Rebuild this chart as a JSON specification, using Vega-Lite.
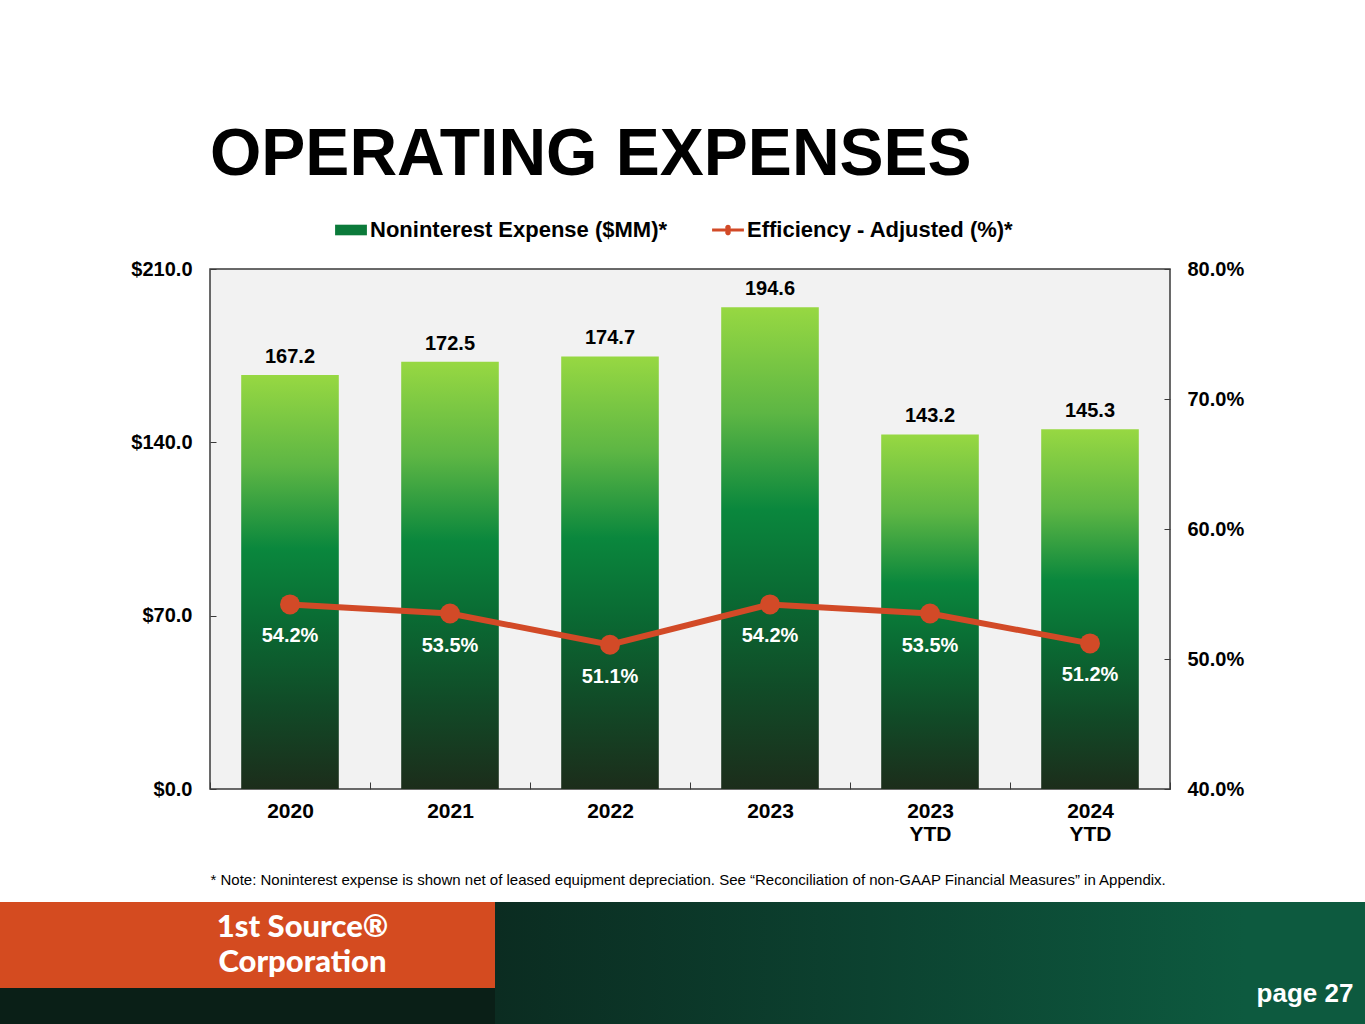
{
  "$schema": "https://vega.github.io/schema/vega-lite/v6.json",
  "background": "#ffffff",
  "padding": {"left": 0, "top": 122, "right": 0, "bottom": 0},
  "autosize": {"type": "pad"},
  "config": {"font": "Liberation Sans"},
  "title": {
    "text": "OPERATING EXPENSES",
    "anchor": "start",
    "frame": "group",
    "dx": 210,
    "fontSize": 66,
    "fontWeight": "bold",
    "font": "Liberation Sans",
    "color": "#000000",
    "offset": 30
  },
  "spacing": 14,
  "vconcat": [
    {
      "spacing": 0,
      "hconcat": [
        {
          "width": 130,
          "height": 520,
          "view": {"fill": null, "stroke": null},
          "data": {"values": [{}]},
          "mark": {"type": "point", "opacity": 0},
          "encoding": {}
        },
        {
          "width": 960,
          "height": 520,
          "view": {"fill": "#f2f2f2", "stroke": "#3a3a3a", "strokeWidth": 1.5},
          "data": {
            "values": [
              {"period": "2020", "expense": 167.2, "eff": 0.542},
              {"period": "2021", "expense": 172.5, "eff": 0.535},
              {"period": "2022", "expense": 174.7, "eff": 0.511},
              {"period": "2023", "expense": 194.6, "eff": 0.542},
              {"period": "2023 YTD", "expense": 143.2, "eff": 0.535},
              {"period": "2024 YTD", "expense": 145.3, "eff": 0.512}
            ]
          },
          "encoding": {
            "x": {
              "field": "period",
              "type": "nominal",
              "sort": null,
              "scale": {"paddingInner": 0, "paddingOuter": 0},
              "axis": {
                "title": "* Note: Noninterest expense is shown net of leased equipment depreciation. See \u201cReconciliation of non-GAAP Financial Measures\u201d in Appendix.",
                "titleAnchor": "start",
                "titleFontSize": 15,
                "titleFontWeight": "normal",
                "titleColor": "#000000",
                "titlePadding": 28,
                "labelAngle": 0,
                "labelExpr": "split(datum.label, ' ')",
                "labelFontSize": 21,
                "labelFontWeight": "bold",
                "labelColor": "#000000",
                "labelLineHeight": 23,
                "labelPadding": 18,
                "tickBand": "extent",
                "tickSize": -7,
                "tickColor": "#3a3a3a",
                "domain": false
              }
            }
          },
          "layer": [
            {
              "encoding": {
                "y": {
                  "field": "expense",
                  "type": "quantitative",
                  "scale": {"domain": [0, 210]},
                  "axis": {
                    "values": [0, 70, 140, 210],
                    "format": "$.1f",
                    "orient": "left",
                    "grid": false,
                    "domain": false,
                    "labelFontSize": 20,
                    "labelFontWeight": "bold",
                    "labelColor": "#000000",
                    "labelPadding": 24,
                    "tickSize": -6,
                    "tickColor": "#3a3a3a",
                    "title": null
                  }
                }
              },
              "layer": [
                {
                  "mark": {
                    "type": "bar",
                    "width": {"band": 0.61},
                    "fill": {
                      "gradient": "linear",
                      "x1": 0, "y1": 0, "x2": 0, "y2": 1,
                      "stops": [
                        {"offset": 0, "color": "#97d842"},
                        {"offset": 0.22, "color": "#5db644"},
                        {"offset": 0.42, "color": "#0a873d"},
                        {"offset": 0.6, "color": "#0a6a33"},
                        {"offset": 0.8, "color": "#114a27"},
                        {"offset": 1, "color": "#1c2d1b"}
                      ]
                    }
                  }
                },
                {
                  "mark": {
                    "type": "text",
                    "baseline": "middle",
                    "dy": -18,
                    "fontSize": 20,
                    "fontWeight": "bold",
                    "color": "#000000"
                  },
                  "encoding": {
                    "text": {"field": "expense", "type": "quantitative", "format": ".1f"}
                  }
                }
              ]
            },
            {
              "encoding": {
                "y": {
                  "field": "eff",
                  "type": "quantitative",
                  "scale": {"domain": [0.4, 0.8]},
                  "axis": {
                    "values": [0.4, 0.5, 0.6, 0.7, 0.8],
                    "format": ".1%",
                    "orient": "right",
                    "grid": false,
                    "domain": false,
                    "labelFontSize": 20,
                    "labelFontWeight": "bold",
                    "labelColor": "#000000",
                    "labelPadding": 23,
                    "tickSize": -6,
                    "tickColor": "#3a3a3a",
                    "title": null
                  }
                }
              },
              "layer": [
                {
                  "mark": {
                    "type": "line",
                    "strokeWidth": 6,
                    "point": {"size": 400, "filled": true}
                  },
                  "encoding": {
                    "color": {
                      "datum": "Efficiency - Adjusted (%)*",
                      "type": "nominal",
                      "scale": {
                        "domain": ["Noninterest Expense ($MM)*", "Efficiency - Adjusted (%)*"],
                        "range": ["#0b7a3a", "#d24a27"]
                      },
                      "legend": {
                        "orient": "none",
                        "legendX": 340,
                        "legendY": -50,
                        "direction": "horizontal",
                        "title": null,
                        "labelFontSize": 22,
                        "labelFontWeight": "bold",
                        "labelColor": "#000000",
                        "labelLimit": 500,
                        "labelOffset": 8,
                        "columnPadding": 44,
                        "symbolSize": 450,
                        "symbolStrokeWidth": 0,
                        "symbolType": "M-1.5,-0.5H1.5V0.5H-1.5Z",
                        "encode": {
                          "symbols": {
                            "update": {
                              "shape": [
                                {"test": "datum.value === 'Noninterest Expense ($MM)*'", "value": "M-1.5,-0.5H1.5V0.5H-1.5Z"},
                                {"value": "M-1.5,-0.13H-0.24A0.26,0.26 0 1,1 0.24,-0.13H1.5V0.13H0.24A0.26,0.26 0 1,1 -0.24,0.13H-1.5Z"}
                              ],
                              "fill": [
                                {"test": "datum.value === 'Noninterest Expense ($MM)*'", "value": {"gradient": "linear", "x1": 0, "y1": 0, "x2": 0, "y2": 1, "stops": [{"offset": 0, "color": "#3aa24a"}, {"offset": 0.5, "color": "#0a7a38"}, {"offset": 1, "color": "#145a2a"}]}},
                                {"value": "#d24a27"}
                              ],
                              "stroke": {"value": "transparent"},
                              "opacity": {"value": 1}
                            }
                          }
                        }
                      }
                    }
                  }
                },
                {
                  "mark": {
                    "type": "text",
                    "baseline": "middle",
                    "dy": 32,
                    "fontSize": 20,
                    "fontWeight": "bold",
                    "color": "#ffffff"
                  },
                  "encoding": {
                    "text": {"field": "eff", "type": "quantitative", "format": ".1%"}
                  }
                }
              ]
            }
          ],
          "resolve": {"scale": {"y": "independent"}}
        }
      ]
    },
    {
      "spacing": 0,
      "hconcat": [
        {
          "spacing": 0,
          "vconcat": [
            {
              "spacing": 0,
              "hconcat": [
                {
                  "width": 110,
                  "height": 86,
                  "view": {"fill": "#d44b20", "stroke": null},
                  "data": {"values": [{}]},
                  "mark": {"type": "point", "opacity": 0},
                  "encoding": {}
                },
                {
                  "width": 385,
                  "height": 86,
                  "view": {"fill": "#d44b20", "stroke": null},
                  "data": {"values": [{"name": ["1st Source\u00ae", "Corporation"]}]},
                  "mark": {
                    "type": "text",
                    "color": "#ffffff",
                    "fontSize": 31,
                    "fontWeight": 900,
                    "font": "Lato",
                    "lineHeight": 35,
                    "baseline": "middle",
                    "align": "center",
                    "dy": -17
                  },
                  "encoding": {"text": {"field": "name", "type": "nominal"}}
                }
              ]
            },
            {
              "width": 495,
              "height": 36,
              "view": {"fill": "#0a1f17", "stroke": null},
              "data": {"values": [{}]},
              "mark": {"type": "point", "opacity": 0},
              "encoding": {}
            }
          ]
        },
        {
          "width": 750,
          "height": 122,
          "view": {
            "fill": {
              "gradient": "linear",
              "x1": 0, "y1": 0, "x2": 1, "y2": 0,
              "stops": [
                {"offset": 0, "color": "#0b2c21"},
                {"offset": 0.5, "color": "#0c4230"},
                {"offset": 1, "color": "#0d5a3f"}
              ]
            },
            "stroke": null
          },
          "data": {"values": [{}]},
          "mark": {"type": "point", "opacity": 0},
          "encoding": {}
        },
        {
          "spacing": 0,
          "vconcat": [
            {
              "width": 120,
              "height": 62,
              "view": {"fill": "#0d5a3f", "stroke": null},
              "data": {"values": [{}]},
              "mark": {"type": "point", "opacity": 0},
              "encoding": {}
            },
            {
              "width": 120,
              "height": 60,
              "view": {"fill": "#0d5a3f", "stroke": null},
              "data": {"values": [{"page": "page 27"}]},
              "mark": {
                "type": "text",
                "color": "#ffffff",
                "fontSize": 26,
                "fontWeight": "bold",
                "baseline": "middle",
                "align": "center"
              },
              "encoding": {"text": {"field": "page", "type": "nominal"}}
            }
          ]
        }
      ]
    }
  ]
}
